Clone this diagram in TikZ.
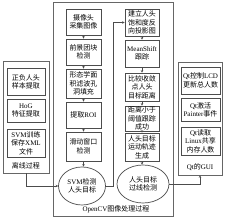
\documentclass[tikz,border=0pt]{standalone}
\usepackage{fontspec}
\setmainfont{Liberation Serif}
\newfontfamily\cjk{Noto Sans CJK SC}
\newcommand{\zh}[1]{{\cjk #1}}
\usetikzlibrary{arrows.meta,shapes.geometric}
\begin{document}
\begin{tikzpicture}[x=1pt,y=-1pt,
  box/.style={draw=black!70,line width=0.7pt,fill=white,align=center,inner sep=0pt,
    font=\fontsize{7}{8.6}\selectfont},
  oval/.style={ellipse,draw=black!70,line width=0.7pt,fill=white,align=center,inner sep=0pt,
    font=\fontsize{7}{8.6}\selectfont},
  cont/.style={draw=black!60,line width=0.6pt,inner sep=0pt},
  lab/.style={font=\fontsize{7}{8.6}\selectfont,inner sep=0pt},
  arr/.style={draw=black!70,line width=0.5pt,-{Stealth[length=2.5pt,width=2.5pt]}}]
\useasboundingbox (0,0) rectangle (228,219);
% containers
\node[cont,minimum width=120pt,minimum height=214pt] (cv) at (113,109) {};
\node[lab] (cvl) at (116,209.5) {OpenCV\zh{图像处理过程}};
\node[cont,minimum width=46pt,minimum height=112pt] (off) at (26,117) {};
\node[lab] (offl) at (26,166) {\zh{离线过程}};
\node[cont,minimum width=44pt,minimum height=113pt] (qt) at (200,118.5) {};
\node[lab] (qtl) at (200,167) {Qt\zh{的}GUI};
% left main column
\node[box,minimum width=35pt,minimum height=26pt] (b1) at (83.5,22) {\zh{摄像头}\\\zh{采集图像}};
\node[box,minimum width=35pt,minimum height=26pt] (b2) at (83.5,52) {\zh{前景团块}\\\zh{检测}};
\node[box,minimum width=35pt,minimum height=29pt] (b3) at (83.5,83.5) {\zh{形态学面}\\\zh{积滤波孔}\\\zh{洞填充}};
\node[box,minimum width=35pt,minimum height=26pt] (b4) at (83.5,115) {\zh{提取}ROI};
\node[box,minimum width=35pt,minimum height=29pt] (b5) at (83.5,146.5) {\zh{滑动窗口}\\\zh{检测}};
\node[oval,minimum width=47pt,minimum height=38pt] (e1) at (82,186) {SVM\zh{检测}\\\zh{人头目标}};
% right main column
\node[box,minimum width=34pt,minimum height=27pt] (r1) at (142,22.5) {\zh{建立人头}\\\zh{饱和度反}\\\zh{向投影图}};
\node[box,minimum width=34pt,minimum height=27pt] (r2) at (142,53.5) {MeanShift\\\zh{跟踪}};
\node[box,minimum width=34pt,minimum height=28pt] (r3) at (142,87) {\zh{比较收敛}\\\zh{点人头}\\\zh{目标距离}};
\node[box,minimum width=34pt,minimum height=25pt] (r4) at (142,118.5) {\zh{距离小于}\\\zh{阈值跟踪}\\\zh{成功}};
\node[box,minimum width=34pt,minimum height=28pt] (r5) at (142,147) {\zh{人头目标}\\\zh{运动轨迹}\\\zh{生成}};
\node[oval,minimum width=52pt,minimum height=38pt] (e2) at (143,184) {\zh{人头目标}\\\zh{过线检测}};
% offline boxes
\node[box,minimum width=38pt,minimum height=27pt] (o1) at (26,82) {\zh{正负人头}\\\zh{样本提取}};
\node[box,minimum width=38pt,minimum height=23pt] (o2) at (26,110.5) {HoG\\\zh{特征提取}};
\node[box,minimum width=38pt,minimum height=28pt] (o3) at (26,143) {SVM\zh{训练}\\\zh{保存}XML\\\zh{文件}};
% Qt boxes
\node[box,minimum width=39pt,minimum height=27pt] (q1) at (200.5,80.5) {Qt\zh{控制}LCD\\\zh{更新总人数}};
\node[box,minimum width=39pt,minimum height=23pt] (q2) at (200.5,110) {Qt\zh{激活}\\Painter\zh{事件}};
\node[box,minimum width=39pt,minimum height=28pt] (q3) at (200.5,141) {Qt\zh{读取}\\Linux\zh{共享}\\\zh{内存人数}};
% arrows
\draw[arr] (b1) -- (b2);
\draw[arr] (b2) -- (b3);
\draw[arr] (b3) -- (b4);
\draw[arr] (b4) -- (b5);
\draw[arr] (b5.south) -- (b5.south |- e1.north);
\draw[arr] (r1) -- (r2);
\draw[arr] (r2) -- (r3);
\draw[arr] (r3) -- (r4);
\draw[arr] (r4) -- (r5);
\draw[arr] (r5.south) -- (r5.south |- e2.north);
\coordinate (jx) at (113,0);
\draw[arr] (off.south) |- (e1.west);
\draw[arr] (e1.east) -- (e1.east -| jx) |- (r1.west);
\draw[arr] (e2.east) -| (qt.south);
\end{tikzpicture}
\end{document}
